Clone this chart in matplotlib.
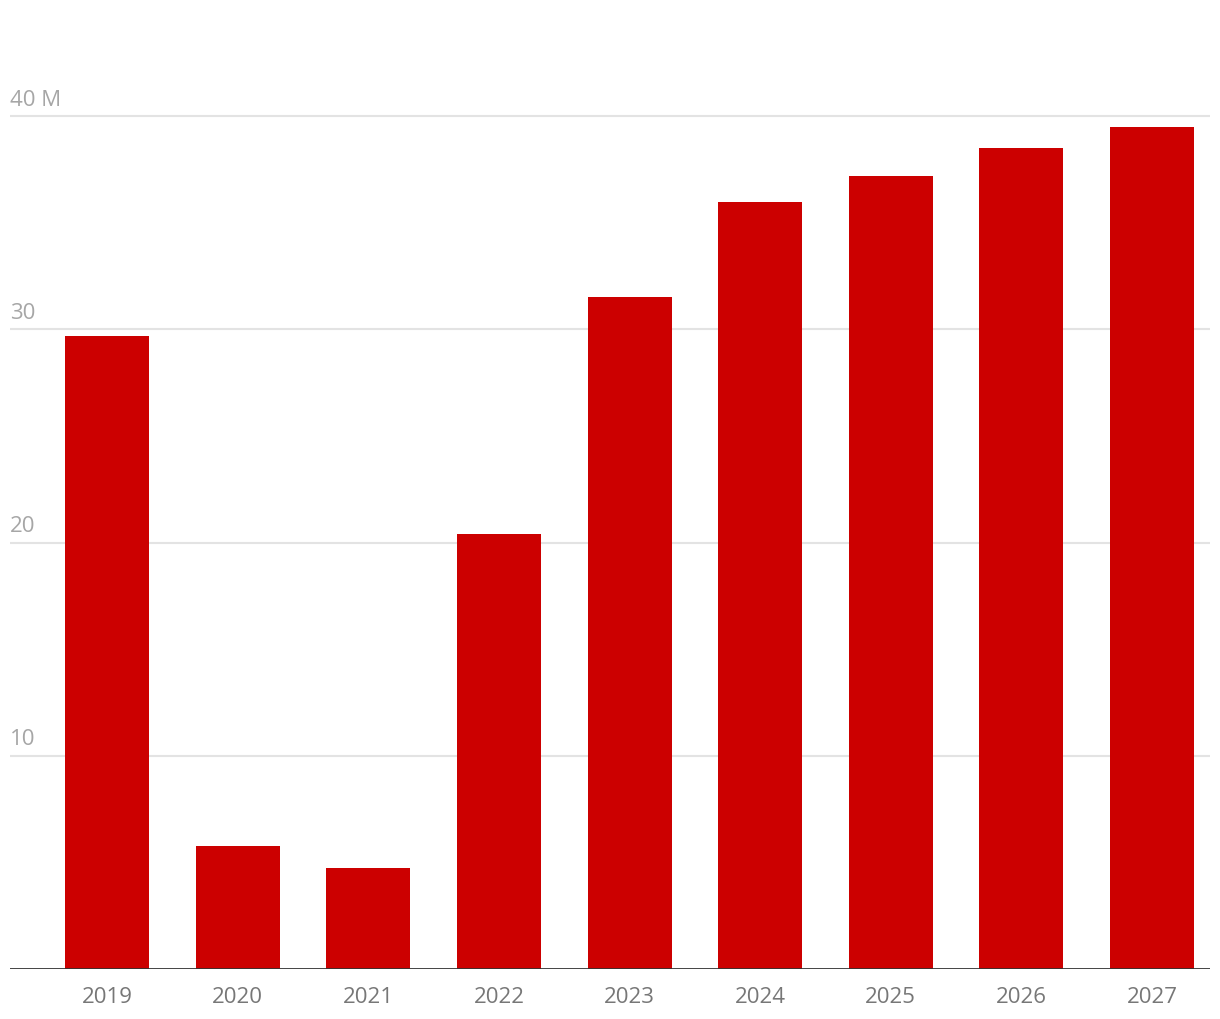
import matplotlib.pyplot as plt

years = ["2019", "2020", "2021", "2022", "2023", "2024", "2025", "2026", "2027"]
values = [29.7, 5.77, 4.74, 20.4, 31.5, 36.0, 37.2, 38.5, 39.5]
y_ticks = [10, 20, 30, 40]
y_labels = ["10", "20", "30", "40 M"]

plt.rcParams['font.family'] = ['Open Sans', 'DejaVu Sans']

fig = plt.figure(figsize=(12.2, 10.2), dpi=100)
# axes from x=10 to 1210 px, baseline at y=970
ax = fig.add_axes([10 / 1220, (1020 - 970) / 1020, 1200 / 1220, (970 - 32) / 1020])

x = list(range(len(years)))
ax.bar(x, values, width=0.643, color="#cc0000", zorder=2)

ax.set_xlim(-0.743, 8.444)
ax.set_ylim(0, 44)

# gridlines with labels sitting above them on the left
for t, lab in zip(y_ticks, y_labels):
    ax.axhline(t, color="#e3e3e3", linewidth=1.5, zorder=1)
    ax.text(0, t + 0.3, lab, transform=ax.get_yaxis_transform(),
            ha="left", va="bottom", fontsize=16, color="#a6a6a6")
ax.axhline(0, color="#333333", linewidth=2, zorder=3)

ax.set_yticks([])
ax.set_xticks(x)
ax.set_xticklabels(years, fontsize=16, color="#777777")
ax.tick_params(axis="x", length=0, pad=12)

for s in ax.spines.values():
    s.set_visible(False)

plt.savefig("out.png", dpi=100)
